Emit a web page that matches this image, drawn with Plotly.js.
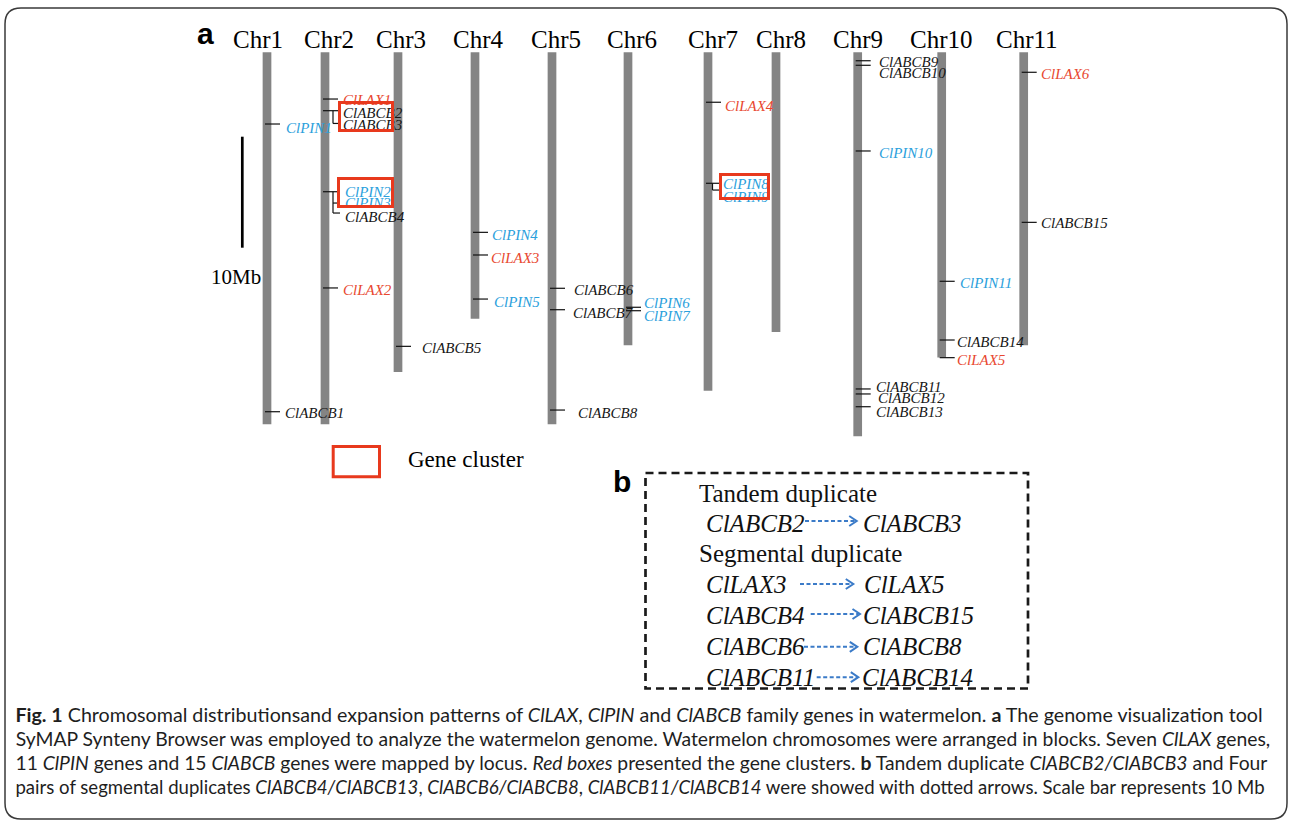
<!DOCTYPE html>
<html><head><meta charset="utf-8">
<script src="https://cdn.plot.ly/plotly-3.0.1.min.js"></script>
<style>html,body{margin:0;padding:0;background:#fff;}#chart{width:1292px;height:822px;}</style>
</head><body><div id="chart"></div>
<script>
// ---------------- DATA ----------------
const chromosomes = ['Chr1','Chr2','Chr3','Chr4','Chr5','Chr6','Chr7','Chr8','Chr9','Chr10','Chr11'];
const chrLengthMb = [33.5, 33.5, 28.8, 24.0, 33.5, 26.4, 30.5, 25.2, 34.6, 27.5, 26.4];

const geneNames = ['ClPIN1','ClABCB1',
  'ClLAX1','ClABCB2','ClABCB3','ClPIN2','ClPIN3','ClABCB4','ClLAX2',
  'ClABCB5',
  'ClPIN4','ClLAX3','ClPIN5',
  'ClABCB6','ClABCB7','ClABCB8',
  'ClPIN6','ClPIN7',
  'ClLAX4','ClPIN8','ClPIN9',
  'ClABCB9','ClABCB10','ClPIN10','ClABCB11','ClABCB12','ClABCB13',
  'ClPIN11','ClABCB14','ClLAX5',
  'ClLAX6','ClABCB15'];
const geneChr = ['Chr1','Chr1',
  'Chr2','Chr2','Chr2','Chr2','Chr2','Chr2','Chr2',
  'Chr3',
  'Chr4','Chr4','Chr4',
  'Chr5','Chr5','Chr5',
  'Chr6','Chr6',
  'Chr7','Chr7','Chr7',
  'Chr9','Chr9','Chr9','Chr9','Chr9','Chr9',
  'Chr10','Chr10','Chr10',
  'Chr11','Chr11'];
const genePosMb = [6.46, 32.38,
  4.21, 5.26, 6.41, 12.56, 13.58, 14.48, 21.23,
  26.49,
  16.22, 18.26, 22.23,
  21.26, 23.19, 32.23,
  22.97, 23.28,
  4.50, 11.80, 12.41,
  0.76, 1.17, 8.89, 30.33, 30.78, 31.93,
  20.63, 25.92, 27.51,
  1.80, 15.32];
const geneFamily = ['PIN','ABCB',
  'LAX','ABCB','ABCB','PIN','PIN','ABCB','LAX',
  'ABCB',
  'PIN','LAX','PIN',
  'ABCB','ABCB','ABCB',
  'PIN','PIN',
  'LAX','PIN','PIN',
  'ABCB','ABCB','PIN','ABCB','ABCB','ABCB',
  'PIN','ABCB','LAX',
  'LAX','ABCB'];

const geneClusters = [['ClABCB2','ClABCB3'], ['ClPIN2','ClPIN3','ClABCB4'], ['ClPIN8','ClPIN9']];
const scaleBarMb = 10;
const scaleBarLabel = '10Mb';
const legendLabel = 'Gene cluster';

const tandemTitle = 'Tandem duplicate';
const tandemPairs = [['ClABCB2','ClABCB3']];
const segmentalTitle = 'Segmental duplicate';
const segmentalPairs = [['ClLAX3','ClLAX5'], ['ClABCB4','ClABCB15'], ['ClABCB6','ClABCB8'], ['ClABCB11','ClABCB14']];

const captionLines = [
  '<b>Fig. 1</b> Chromosomal distributionsand expansion patterns of <i>ClLAX</i>, <i>ClPIN</i> and <i>ClABCB</i> family genes in watermelon. <b>a</b> The genome visualization tool',
  'SyMAP Synteny Browser was employed to analyze the watermelon genome. Watermelon chromosomes were arranged in blocks. Seven <i>ClLAX</i> genes,',
  '11 <i>ClPIN</i> genes and 15 <i>ClABCB</i> genes were mapped by locus. <i>Red boxes</i> presented the gene clusters. <b>b</b> Tandem duplicate <i>ClABCB2/ClABCB3</i> and Four',
  'pairs of segmental duplicates <i>ClABCB4/ClABCB13</i>, <i>ClABCB6/ClABCB8</i>, <i>ClABCB11/ClABCB14</i> were showed with dotted arrows. Scale bar represents 10 Mb'
];

// ---------------- LAYOUT / STYLE ----------------
const W = 1292, H = 822, PX_PER_MB = 11.1, TOP = 52.3;
const P = py => 1 - py / H;                 // pixel y -> paper
const chrX = [267, 325, 398, 475, 552, 628, 708, 776, 857.7, 941.7, 1023.7];
const chrLabelX = [257.7, 328.7, 401, 478.7, 556, 631.7, 713, 780.5, 858, 941.7, 1026.7];
const chrWidth = 8.7;
// label offset [dx px right of chromosome centre, dy px below locus]
const labelNudge = {
  ClPIN1:[18,4], ClABCB1:[17.3,1.3], ClLAX1:[16.7,1], ClABCB2:[17,2.3], ClABCB3:[17,1.5],
  ClPIN2:[19,0.3], ClPIN3:[19,-0.5], ClABCB4:[19,4], ClLAX2:[16.7,2], ClABCB5:[23,1.7],
  ClPIN4:[15.7,2.7], ClLAX3:[15,3], ClPIN5:[18,2.7], ClABCB6:[21,1.7], ClABCB7:[19.7,3.5],
  ClABCB8:[25,3], ClPIN6:[15,-4.3], ClPIN7:[15,5], ClLAX4:[16,3.4], ClPIN8:[14,0.7],
  ClPIN9:[14,6.7], ClABCB9:[20,1], ClABCB10:[20,8], ClPIN10:[20.6,2.3], ClABCB11:[17.3,-2.3],
  ClABCB12:[19,3.7], ClABCB13:[17.3,5], ClPIN11:[17.6,2], ClABCB14:[14.3,1.7], ClLAX5:[14.3,2.3],
  ClLAX6:[16.3,2], ClABCB15:[16.3,1]
};
const bracketStyle = [{dx:8, end:14}, {dx:8, end:15}, {dx:4.5, end:11}];
const clusterBoxes = [{cx:366.2, cy:116.7, w:55.7, h:31.3}, {cx:365, cy:192.8, w:56.6, h:31}, {cx:744.5, cy:186.7, w:51, h:26.7}];
const famColor = {LAX:'#e8472f', PIN:'#2aa0dc', ABCB:'#161616'};
const RED = '#e8391d', GRAY = '#848484', ARROW = '#3b7bc8';
const serif = 'Liberation Serif, Times New Roman, serif';

const chrIndex = c => chromosomes.indexOf(c);
const gi = n => geneNames.indexOf(n);

// ---------------- TRACES ----------------
const traces = [];
traces.push({
  type:'bar', x: chrX, y: chrLengthMb, base: chromosomes.map(()=>0), width: chrX.map(()=>chrWidth),
  marker:{color:GRAY, line:{width:0}}, hoverinfo:'skip'
});

const followers = new Set();
geneClusters.forEach(c => c.slice(1).forEach(n => followers.add(n)));
const tx = [], ty = [];
geneNames.forEach((n,i) => {
  if (followers.has(n)) return;
  const cx = chrX[chrIndex(geneChr[i])];
  tx.push(cx - 2, cx + 13, null); ty.push(genePosMb[i], genePosMb[i], null);
});
geneClusters.forEach((c,k) => {
  const first = gi(c[0]); const cx = chrX[chrIndex(geneChr[first])];
  const bs = bracketStyle[k];
  const last = gi(c[c.length-1]);
  tx.push(cx + bs.dx, cx + bs.dx, null); ty.push(genePosMb[first], genePosMb[last], null);
  c.slice(1).forEach(n => { const j = gi(n); tx.push(cx + bs.dx, cx + bs.end, null); ty.push(genePosMb[j], genePosMb[j], null); });
});
traces.push({type:'scatter', mode:'lines', x:tx, y:ty, line:{color:'#111', width:1.2}, hoverinfo:'skip'});

const scaleStart = (136.7 - TOP) / PX_PER_MB;
traces.push({type:'scatter', mode:'lines', x:[242.3, 242.3], y:[scaleStart, scaleStart + scaleBarMb], line:{color:'#000', width:2.7}, hoverinfo:'skip'});

// ---------------- ANNOTATIONS ----------------
const ann = [];
ann.push({text:'a', x:205.5, y:P(33.5), xref:'x', yref:'paper', showarrow:false, xanchor:'center', yanchor:'middle', font:{family:'Liberation Sans, Arial, sans-serif', size:30, weight:'bold', color:'#000'}});
ann.push({text:'b', x:621.7, y:P(481), xref:'x', yref:'paper', showarrow:false, xanchor:'center', yanchor:'middle', font:{family:'Liberation Sans, Arial, sans-serif', size:30, weight:'bold', color:'#000'}});
chromosomes.forEach((c,i) => ann.push({text:c, x:chrLabelX[i], y:P(39.2), xref:'x', yref:'paper', showarrow:false, xanchor:'center', yanchor:'middle', font:{family:serif, size:25, color:'#000'}}));
geneNames.forEach((n,i) => {
  const nd = labelNudge[n] || [16,2];
  ann.push({text:n, x:chrX[chrIndex(geneChr[i])], y:genePosMb[i], xref:'x', yref:'y', xshift:nd[0], yshift:-nd[1], showarrow:false, xanchor:'left', yanchor:'middle', borderpad:0,
    font:{family:serif, size:15, style:'italic', color:famColor[geneFamily[i]]}});
});
clusterBoxes.forEach(b => ann.push({text:' ', x:b.cx, y:P(b.cy), xref:'x', yref:'paper', showarrow:false, xanchor:'center', yanchor:'middle', width:b.w-6, height:b.h-6, borderpad:0, borderwidth:3, bordercolor:RED, bgcolor:'rgba(0,0,0,0)'}));
ann.push({text:scaleBarLabel, x:236, y:P(276.5), xref:'x', yref:'paper', showarrow:false, xanchor:'center', yanchor:'middle', font:{family:serif, size:21, color:'#000'}});
ann.push({text:legendLabel, x:406.7, y:P(459), xref:'x', yref:'paper', showarrow:false, xanchor:'left', yanchor:'middle', borderpad:0, font:{family:serif, size:23, color:'#000'}});

const bFont = {family:serif, size:25, color:'#111'};
const bItal = {family:serif, size:25, color:'#111', style:'italic'};
ann.push({text:tandemTitle, x:698.3, y:P(493.5), xref:'x', yref:'paper', showarrow:false, xanchor:'left', yanchor:'middle', borderpad:0, font:bFont});
ann.push({text:segmentalTitle, x:698.3, y:P(553.8), xref:'x', yref:'paper', showarrow:false, xanchor:'left', yanchor:'middle', borderpad:0, font:bFont});
const pairRows = tandemPairs.concat(segmentalPairs);
const rowY = [523, 584, 615, 646.5, 677];
const rightX = [861.7, 863.3, 861.7, 861.7, 861];
const arrowSeg = [[805,856.7,521],[800,853.3,584],[810.7,860,614],[804,857.3,646.8],[816.7,858.3,677.2]];
pairRows.forEach((p,r) => {
  ann.push({text:p[0], x:705, y:P(rowY[r]), xref:'x', yref:'paper', showarrow:false, xanchor:'left', yanchor:'middle', borderpad:0, font:bItal});
  ann.push({text:p[1], x:rightX[r], y:P(rowY[r]), xref:'x', yref:'paper', showarrow:false, xanchor:'left', yanchor:'middle', borderpad:0, font:bItal});
});

// caption (condensed look obtained by horizontal fit after render)
const capFamily = 'Lato, Liberation Sans, sans-serif';
const capTargets = [1248, 1256, 1253, 1250];
const capY = [714, 738, 762, 786];
const capStart = ann.length;
captionLines.forEach((l,i) => ann.push({text:l, x:14, y:P(capY[i]), xref:'x', yref:'paper', showarrow:false, xanchor:'left', yanchor:'middle', borderpad:0,
  font:{family:capFamily, size:19, color:'#1e1e1e'}}));

// ---------------- SHAPES ----------------
const shapes = [];
const fx0=5, fx1=1287, fy0=8, fy1=819, r=16;
shapes.push({type:'path', xref:'x', yref:'paper', line:{color:'#3a3a3a', width:1.5},
  path:`M ${fx0+r},${P(fy0)} L ${fx1-r},${P(fy0)} Q ${fx1},${P(fy0)} ${fx1},${P(fy0+r)} L ${fx1},${P(fy1-r)} Q ${fx1},${P(fy1)} ${fx1-r},${P(fy1)} L ${fx0+r},${P(fy1)} Q ${fx0},${P(fy1)} ${fx0},${P(fy1-r)} L ${fx0},${P(fy0+r)} Q ${fx0},${P(fy0)} ${fx0+r},${P(fy0)} Z`});
shapes.push({type:'rect', xref:'x', yref:'paper', x0:333.2, x1:379.5, y0:P(446.5), y1:P(476.8), line:{color:RED, width:3}});
shapes.push({type:'rect', xref:'x', yref:'paper', x0:645.5, x1:1028, y0:P(473), y1:P(688.5), line:{color:'#1a1a1a', width:2.7, dash:'8px,5px'}});
arrowSeg.forEach(a => {
  shapes.push({type:'line', xref:'x', yref:'paper', x0:a[0], x1:a[1]-1.5, y0:P(a[2]), y1:P(a[2]), line:{color:ARROW, width:2, dash:'4px,2.5px'}});
  shapes.push({type:'path', xref:'x', yref:'paper', line:{color:ARROW, width:2}, path:`M ${a[1]-7.5},${P(a[2]-5)} L ${a[1]},${P(a[2])} L ${a[1]-7.5},${P(a[2]+5)}`});
});

const layout = {
  width:W, height:H, margin:{l:0,r:0,t:0,b:0}, paper_bgcolor:'#fff', plot_bgcolor:'#fff', showlegend:false,
  xaxis:{range:[0,W], visible:false, fixedrange:true},
  yaxis:{range:[(H-TOP)/PX_PER_MB, -TOP/PX_PER_MB], visible:false, fixedrange:true},
  annotations:ann, shapes:shapes
};
Plotly.newPlot('chart', traces, layout, {staticPlot:true, displayModeBar:false}).then(gd => {
  captionLines.forEach((l,i) => {
    const g = gd.querySelector('.annotation[data-index="' + (capStart + i) + '"] text.annotation-text');
    if (!g) return;
    const bb = g.getBBox();
    const s = capTargets[i] / bb.width;
    g.setAttribute('transform', `translate(${bb.x},0) scale(${s},1) translate(${-bb.x},0)`);
  });
});
</script></body></html>
